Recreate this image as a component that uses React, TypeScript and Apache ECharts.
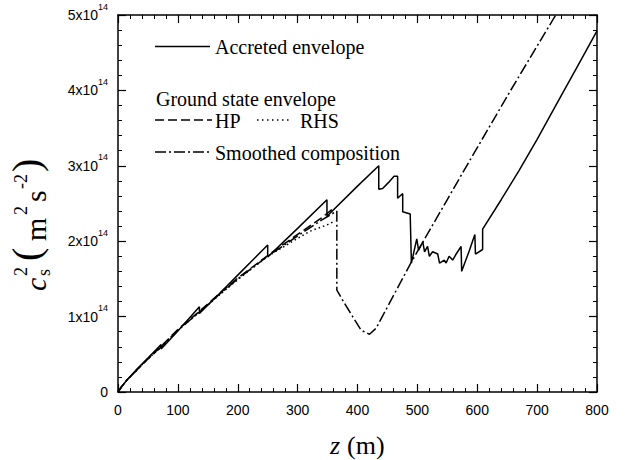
import React, { useEffect, useRef } from "react";
import * as echarts from "echarts";

// z in metres, c_s^2 in units of 1e14 m^2 s^-2
const accretedZ = [0, 5, 15, 30, 50, 72, 72, 100, 136, 136, 170, 200, 250, 250, 300, 349, 349, 400, 435.5, 435.5, 442, 452, 461, 467, 467, 471, 475.5, 475.5, 488, 490, 499, 502, 509, 512, 517, 520, 525.5, 534, 537, 545, 548, 553, 559, 564, 573, 574, 587, 596, 597, 609, 609, 640, 670, 700, 734, 766, 800];
const accretedCs2 = [0, 0.06, 0.16, 0.29, 0.45, 0.63, 0.57, 0.81, 1.13, 1.04, 1.31, 1.55, 1.95, 1.79, 2.17, 2.55, 2.33, 2.73, 3.0, 2.69, 2.7, 2.78, 2.86, 2.86, 2.57, 2.6, 2.63, 2.39, 2.36, 1.71, 2.03, 1.88, 1.99, 1.86, 1.93, 1.8, 1.86, 1.83, 1.71, 1.75, 1.71, 1.8, 1.75, 1.82, 1.93, 1.6, 1.88, 2.09, 1.83, 1.89, 2.16, 2.55, 2.94, 3.35, 3.84, 4.3, 4.79];

const hpZ = [0, 5, 15, 30, 50, 70, 100, 136, 170, 200, 250, 300, 340, 362];
const hpCs2 = [0, 0.06, 0.16, 0.28, 0.44, 0.59, 0.83, 1.07, 1.31, 1.51, 1.81, 2.09, 2.31, 2.45];

const rhsZ = [0, 5, 15, 30, 50, 70, 100, 136, 170, 200, 250, 290, 320, 350, 363];
const rhsCs2 = [0, 0.06, 0.16, 0.28, 0.44, 0.58, 0.82, 1.06, 1.29, 1.49, 1.8, 1.99, 2.13, 2.22, 2.27];

const smoothZ = [0, 5, 15, 30, 50, 70, 100, 136, 170, 200, 250, 300, 340, 365.5, 365.5, 378, 392, 406, 420, 431, 489, 578, 600, 655, 731];
const smoothCs2 = [0, 0.06, 0.16, 0.28, 0.44, 0.58, 0.82, 1.06, 1.3, 1.5, 1.8, 2.07, 2.28, 2.4, 1.35, 1.18, 1.0, 0.82, 0.765, 0.845, 1.71, 2.94, 3.24, 3.99, 5.0];

const serif = '"Liberation Serif", "Times New Roman", serif';
const sans = '"Liberation Sans", Arial, sans-serif';

const zip = (xs: number[], ys: number[]) => xs.map((x, i) => [x, ys[i]]);

export default function App() {
  const ref = useRef<HTMLDivElement>(null);
  useEffect(() => {
    const chart = echarts.init(ref.current!, null, { renderer: "svg" });
    const axisLine = { show: true, onZero: false, lineStyle: { color: "#000", width: 1.5 } };
    const axisTick = { show: true, inside: true, length: 8, lineStyle: { color: "#000", width: 1.2 } };
    const minorTick = { show: true, splitNumber: 5, length: 4, lineStyle: { color: "#000", width: 1 } };
    const txt = (text: string, x: number, y: number, font: string, align = "left") => ({
      type: "text",
      x,
      y,
      silent: true,
      style: { text, font, fill: "#000", align, textAlign: align, verticalAlign: "middle", textVerticalAlign: "middle" },
    });
    const seg = (x1: number, x2: number, y: number, dash: number[] | null) => ({
      type: "line",
      silent: true,
      shape: { x1, y1: y, x2, y2: y },
      style: { stroke: "#000", lineWidth: 1.5, lineDash: dash || undefined },
    });
    const mk = (name: string, xs: number[], ys: number[], type: any, z: number) => ({
      name,
      type: "line",
      data: zip(xs, ys),
      showSymbol: false,
      silent: true,
      z,
      lineStyle: { color: "#000", width: 1.5, type },
    });
    chart.setOption({
      animation: false,
      backgroundColor: "#fff",
      grid: { left: 118, right: 29, top: 15, bottom: 68 },
      xAxis: [
        {
          type: "value", min: 0, max: 800, interval: 100, position: "bottom",
          axisLine, axisTick, minorTick, splitLine: { show: false },
          axisLabel: { color: "#000", fontFamily: sans, fontSize: 14, margin: 11 },
        },
        {
          type: "value", min: 0, max: 800, interval: 100, position: "top",
          axisLine, axisTick, minorTick, splitLine: { show: false }, axisLabel: { show: false },
        },
      ],
      yAxis: [
        {
          type: "value", min: 0, max: 5, interval: 1, position: "left",
          axisLine, axisTick, minorTick, splitLine: { show: false },
          axisLabel: {
            color: "#000", fontFamily: sans, fontSize: 14, margin: 10,
            formatter: (v: number) => (v === 0 ? "0" : `{a|${v}x10}{b|14}`),
            rich: {
              a: { fontFamily: sans, fontSize: 14, color: "#000", lineHeight: 26 },
              b: { fontFamily: sans, fontSize: 9, color: "#000", lineHeight: 10, verticalAlign: "top" },
            },
          },
        },
        {
          type: "value", min: 0, max: 5, interval: 1, position: "right",
          axisLine, axisTick, minorTick, splitLine: { show: false }, axisLabel: { show: false },
        },
      ],
      series: [
        mk("RHS", rhsZ, rhsCs2, [1.5, 3], 2),
        mk("HP", hpZ, hpCs2, [9, 4], 3),
        mk("Smoothed composition", smoothZ, smoothCs2, [11, 3, 2, 3], 4),
        mk("Accreted envelope", accretedZ, accretedCs2, "solid", 5),
      ],
      graphic: [
        seg(155, 210, 46.5, null),
        txt("Accreted envelope", 215, 46.5, `20px ${serif}`),
        txt("Ground state envelope", 156, 99, `20px ${serif}`),
        seg(155, 212, 120, [9, 4]),
        txt("HP", 215, 121, `20px ${serif}`),
        seg(257, 289, 120, [1.5, 3.5]),
        txt("RHS", 300, 121, `20px ${serif}`),
        seg(155, 212, 152, [11, 3, 2, 3]),
        txt("Smoothed composition", 215, 152.5, `20px ${serif}`),
        txt("z", 330, 445, `italic 26px ${serif}`),
        txt("(m)", 347, 445, `26px ${serif}`),
        {
          type: "group",
          x: 45,
          y: 291,
          rotation: Math.PI / 2,
          children: [
            txt("c", 0, -10, `italic 30px ${serif}`),
            txt("s", 15, -1, `18px ${serif}`),
            txt("2", 15, -24, `18px ${serif}`),
            txt("(", 30, -19, `40px ${serif}`),
            txt("m", 50, -10, `30px ${serif}`),
            txt("2", 76, -24, `18px ${serif}`),
            txt("s", 89, -10, `30px ${serif}`),
            txt("-2", 102, -24, `18px ${serif}`),
            txt(")", 119, -19, `40px ${serif}`),
          ],
        },
      ],
    });
    return () => chart.dispose();
  }, []);
  return <div ref={ref} style={{ position: "fixed", left: 0, top: 0, width: 626, height: 460 }} />;
}
